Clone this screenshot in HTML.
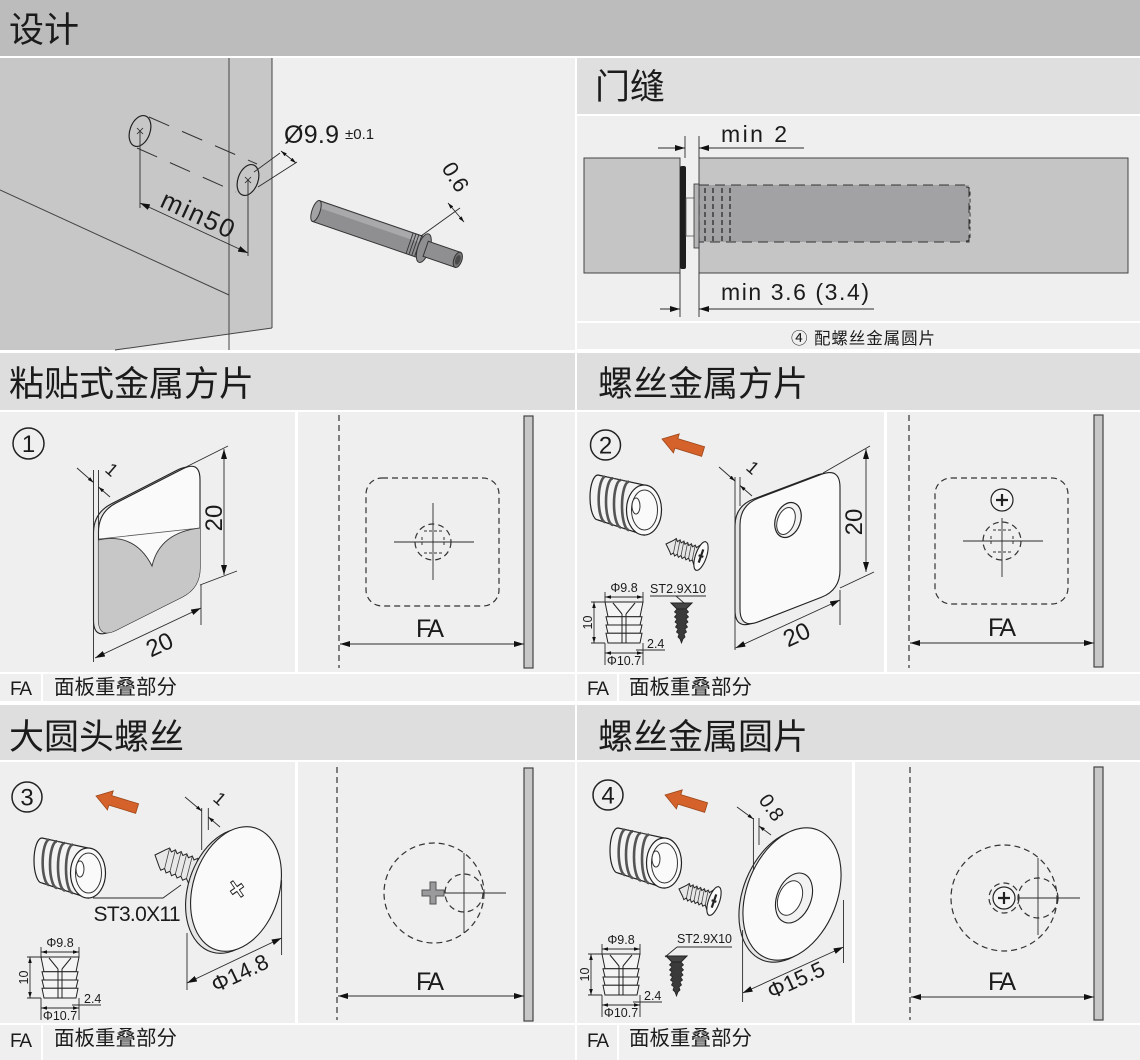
<!DOCTYPE html>
<html><head><meta charset="utf-8"><title>设计</title>
<style>
html,body{margin:0;padding:0;background:#fff;width:1140px;height:1060px;overflow:hidden}
svg{display:block}
text{font-family:"Liberation Sans","Noto Sans CJK SC","WenQuanYi Zen Hei",sans-serif;fill:#1b1b1b}
.d{stroke:#2b2b2b;stroke-width:0.9;fill:none}
.ds{stroke:#333;stroke-width:1.2;fill:none;stroke-dasharray:6 4}
</style></head><body>
<svg width="1140" height="1060" viewBox="0 0 1140 1060" xmlns="http://www.w3.org/2000/svg">
<defs>
<marker id="ar" viewBox="0 0 10 6" refX="10" refY="3" markerWidth="10" markerHeight="6" markerUnits="userSpaceOnUse" orient="auto-start-reverse"><path d="M0,0 L10,3 L0,6 z" fill="#111"/></marker>
<marker id="as" viewBox="0 0 10 6" refX="10" refY="3" markerWidth="6" markerHeight="3.6" markerUnits="userSpaceOnUse" orient="auto-start-reverse"><path d="M0,0 L10,3 L0,6 z" fill="#111"/></marker>
<g id="ins">
<path d="M9,7 L55,17 L55,67 L9,52 A8,22.5 0 0 1 9,7 Z" fill="#f3f3f3" stroke="#222" stroke-width="1.2"/>
<path d="M16,8.5 A7,23 0 0 0 16,54.3 M24,10.3 A7,23.3 0 0 0 24,56.9 M32,12 A7,23.7 0 0 0 32,59.5 M40,13.7 A7,24.2 0 0 0 40,62.1" fill="none" stroke="#555" stroke-width="2.6"/>
<path d="M18,9 L26,10.8 M30,11.6 L38,13.4" stroke="#444" stroke-width="1"/>
<ellipse cx="55" cy="42" rx="17.5" ry="25" fill="#fafafa" stroke="#222" stroke-width="1.2"/>
<ellipse cx="55.5" cy="42" rx="13" ry="20" fill="none" stroke="#333" stroke-width="1"/>
<ellipse cx="47" cy="38" rx="4" ry="8" fill="#fff" stroke="#333" stroke-width="1"/>
</g>
<g id="scr">
<path d="M0,0 L6,-6 L8,-8.5 L10,-6 L12,-8.5 L14,-6 L16,-8.5 L18,-6 L20,-8.5 L22,-6 L24,-8.5 L26,-6 L28,-8.5 L30,-6.5 L36,-14.5 L36,14.5 L30,6.5 L28,8.5 L26,6 L24,8.5 L22,6 L20,8.5 L18,6 L16,8.5 L14,6 L12,8.5 L10,6 L8,8.5 L6,6 Z" fill="#e6e6e6" stroke="#222" stroke-width="1"/>
<path d="M8,-8.5 L10,6 M12,-8.5 L14,6 M16,-8.5 L18,6 M20,-8.5 L22,6 M24,-8.5 L26,6 M28,-8.5 L30,6.5" stroke="#444" stroke-width="0.8"/>
<ellipse cx="37" cy="0" rx="5.5" ry="15" fill="#fafafa" stroke="#222" stroke-width="1.1"/>
<path d="M37,-7 L37,7 M34.5,0 L39.5,0" stroke="#222" stroke-width="2.2"/>
</g>
<g id="fscr">
<path d="M0,0 L21,0 L15,6 L6,6 Z" fill="#444" stroke="#222"/>
<path d="M6,6 L15,6 L17.5,9 L15,11 L17.5,14 L15,16 L17,19 L14.5,21 L16.5,24 L14,26 L15.5,29 L13,31 L14,34 L12,36 L10.5,40 L9,36 L7,34 L8,31 L5.5,29 L7,26 L4.5,24 L6.5,21 L4,19 L6,16 L3.5,14 L6,11 L3.5,9 Z" fill="#3a3a3a" stroke="#222" stroke-width="0.8"/>
</g>
<g id="sins" stroke="#222" stroke-width="1" fill="#f4f4f4">
<path d="M0,0 L38,0 L35,14.7 L3,14.7 Z"/>
<path d="M8,1 L17,12 M30,1 L21,12" fill="none"/>
<path d="M1,14.7 L37,14.7 L35,23 L3,23 Z"/>
<path d="M1,23 L37,23 L35,31.3 L3,31.3 Z"/>
<path d="M1,31.3 L37,31.3 L35,41 L3,41 Z"/>
<path d="M17,12 L17,41 M21,12 L21,41" fill="none"/>
</g>
<g id="oarr"><polygon points="0,0 15,-10 15,-5 43,-5 43,5 15,5 15,10" fill="#d4622a" stroke="#9c4619" stroke-width="0.8"/></g>
<clipPath id="cp1"><path d="M98.5,532 Q98.5,512 116.3,502.9 L182.2,469.1 Q200,460 200,480 L200,568 Q200,588 182.1,597 L116.4,630 Q98.5,639 98.5,619 Z"/></clipPath>
</defs>

<!-- backgrounds -->
<rect x="0" y="0" width="1140" height="56" fill="#bdbcbd"/>
<text x="9" y="42" font-size="35" fill="#111">设计</text>
<rect x="0" y="58" width="575" height="292" fill="#efefef"/>
<rect x="577" y="58" width="563" height="56" fill="#e0dfe0"/>
<text x="595" y="99" font-size="35" fill="#111">门缝</text>
<rect x="577" y="116" width="563" height="205" fill="#efefef"/>
<rect x="577" y="323" width="563" height="26" fill="#efefef"/>
<text x="791" y="344" font-size="16.5" textLength="144">④ 配螺丝金属圆片</text>

<rect x="0" y="353" width="575" height="57" fill="#dfdedf"/>
<text x="9" y="396" font-size="35" fill="#111">粘贴式金属方片</text>
<rect x="577" y="353" width="563" height="57" fill="#dfdedf"/>
<text x="598" y="396" font-size="35" fill="#111">螺丝金属方片</text>
<rect x="0" y="412" width="295" height="260" fill="#efefef"/>
<rect x="298" y="412" width="277" height="260" fill="#efefef"/>
<rect x="577" y="412" width="307" height="260" fill="#efefef"/>
<rect x="887" y="412" width="253" height="260" fill="#efefef"/>
<rect x="0" y="674" width="41" height="27" fill="#efefef"/>
<rect x="43" y="674" width="532" height="27" fill="#f0f0f0"/>
<rect x="577" y="674" width="40" height="27" fill="#efefef"/>
<rect x="619" y="674" width="521" height="27" fill="#f0f0f0"/>
<text x="10" y="695" font-size="19" textLength="22">FA</text>
<text x="54" y="694" font-size="20.5">面板重叠部分</text>
<text x="587" y="695" font-size="19" textLength="22">FA</text>
<text x="629" y="694" font-size="20.5">面板重叠部分</text>

<rect x="0" y="705" width="575" height="55" fill="#dfdedf"/>
<text x="9" y="749" font-size="35" fill="#111">大圆头螺丝</text>
<rect x="577" y="705" width="563" height="55" fill="#dfdedf"/>
<text x="598" y="749" font-size="35" fill="#111">螺丝金属圆片</text>
<rect x="0" y="762" width="295" height="261" fill="#efefef"/>
<rect x="298" y="762" width="277" height="261" fill="#efefef"/>
<rect x="577" y="762" width="275" height="261" fill="#efefef"/>
<rect x="855" y="762" width="285" height="261" fill="#efefef"/>
<rect x="0" y="1025" width="41" height="35" fill="#efefef"/>
<rect x="43" y="1025" width="532" height="35" fill="#f0f0f0"/>
<rect x="577" y="1025" width="40" height="35" fill="#efefef"/>
<rect x="619" y="1025" width="521" height="35" fill="#f0f0f0"/>
<text x="10" y="1047" font-size="19" textLength="22">FA</text>
<text x="54" y="1045" font-size="20.5">面板重叠部分</text>
<text x="587" y="1047" font-size="19" textLength="22">FA</text>
<text x="629" y="1045" font-size="20.5">面板重叠部分</text>

<!-- ===== TOP LEFT: design ===== -->
<polygon points="0,58 272,58 272,328 115,350 0,350" fill="#c8c7c8"/>
<line x1="229" y1="58" x2="229" y2="350" stroke="#444" stroke-width="1"/>
<line x1="272" y1="58" x2="272" y2="328" stroke="#444" stroke-width="1"/>
<line x1="272" y1="328" x2="115" y2="350" stroke="#444" stroke-width="1"/>
<line x1="0" y1="190" x2="229" y2="295" stroke="#444" stroke-width="1"/>
<line x1="149" y1="117" x2="257" y2="164" stroke="#333" stroke-width="1" stroke-dasharray="22 14"/>
<line x1="137" y1="148" x2="236" y2="192" stroke="#333" stroke-width="1" stroke-dasharray="22 14"/>
<ellipse cx="140" cy="131" rx="10" ry="16" transform="rotate(20 140 131)" fill="none" stroke="#222" stroke-width="1.2"/>
<ellipse cx="248" cy="180" rx="10" ry="16" transform="rotate(20 248 180)" fill="#c8c7c8" stroke="#222" stroke-width="1.2"/>
<path d="M137,128 l6,6 M143,128 l-6,6 M245,177 l6,6 M251,177 l-6,6" stroke="#222" stroke-width="0.8"/>
<line x1="140" y1="131" x2="140" y2="208" class="d"/>
<line x1="248" y1="180" x2="248" y2="256" class="d"/>
<line x1="140" y1="203" x2="248" y2="253" class="d" marker-start="url(#ar)" marker-end="url(#ar)"/>
<text transform="translate(192,227) rotate(24.8)" x="0" y="-5" font-size="26" text-anchor="middle" textLength="78">min50</text>
<line x1="254" y1="172" x2="280" y2="153" class="d"/>
<line x1="258" y1="187" x2="297" y2="162" class="d"/>
<line x1="281" y1="151" x2="296" y2="163" class="d" marker-start="url(#as)" marker-end="url(#as)"/>
<text x="284" y="143" font-size="25" textLength="55">Ø9.9</text>
<text x="345" y="139" font-size="15">±0.1</text>
<!-- damper -->
<g transform="translate(316,211) rotate(19)">
<rect x="0" y="-11" width="112" height="22" fill="#8f8e91" stroke="#333" stroke-width="1"/>
<rect x="1" y="-10" width="110" height="6" fill="#a9a8ab"/>
<ellipse cx="0" cy="0" rx="4" ry="11" fill="#a3a2a5" stroke="#333"/>
<path d="M99,-11 v22 M102,-11 v22 M105,-11 v22 M108,-11 v22" stroke="#333" stroke-width="0.9"/>
<ellipse cx="114" cy="0" rx="6" ry="15" fill="#8f8e91" stroke="#333"/>
<rect x="116" y="-8" width="34" height="16" fill="#8f8e91" stroke="#333"/>
<ellipse cx="150" cy="0" rx="4" ry="8" fill="#777" stroke="#333"/>
<ellipse cx="150" cy="0" rx="2.5" ry="5" fill="#4a4a4a"/>
</g>
<line x1="421" y1="236" x2="460" y2="208" class="d"/>
<line x1="448" y1="203" x2="464" y2="222" class="d" marker-start="url(#as)" marker-end="url(#as)"/>
<text transform="translate(441,168) rotate(58)" font-size="22">0.6</text>

<!-- ===== TOP RIGHT: door gap ===== -->
<rect x="584" y="158" width="96" height="115" fill="#c6c5c6" stroke="#444" stroke-width="1"/>
<rect x="699" y="158" width="429" height="115" fill="#c6c5c6" stroke="#444" stroke-width="1"/>
<rect x="680" y="166" width="6" height="103" rx="2" fill="#1e1e1e"/>
<rect x="686" y="198" width="9" height="38" fill="#efefef" stroke="#555" stroke-width="0.8"/>
<rect x="699" y="185" width="270" height="57" fill="#a2a1a3" stroke="#333" stroke-width="1" stroke-dasharray="10 6"/>
<rect x="694" y="184" width="5" height="64" fill="#b5b4b6" stroke="#333" stroke-width="0.8"/>
<path d="M705,188 V243 M713,188 V243 M722,188 V243 M730,188 V243" stroke="#222" stroke-width="1.2" stroke-dasharray="5 3"/>
<path d="M966,187 q4,0 4,4 v46 q0,4 -4,4" fill="none" stroke="#333" stroke-width="1" stroke-dasharray="4 3"/>
<line x1="685" y1="136" x2="685" y2="158" class="d"/>
<line x1="699" y1="136" x2="699" y2="158" class="d"/>
<line x1="658" y1="148" x2="685" y2="148" class="d" marker-end="url(#ar)"/>
<line x1="804" y1="148" x2="699" y2="148" class="d" marker-end="url(#ar)"/>
<text x="721" y="142" font-size="23" textLength="66">min 2</text>
<line x1="680" y1="273" x2="680" y2="317" class="d"/>
<line x1="699" y1="273" x2="699" y2="317" class="d"/>
<line x1="660" y1="309" x2="680" y2="309" class="d" marker-end="url(#ar)"/>
<line x1="874" y1="309" x2="699" y2="309" class="d" marker-end="url(#ar)"/>
<text x="721" y="300" font-size="23" textLength="148">min 3.6 (3.4)</text>

<!-- ===== ROW 1 LEFT: adhesive plate ===== -->
<circle cx="28.5" cy="443.5" r="15.5" fill="none" stroke="#222" stroke-width="1.5"/>
<text x="28.5" y="452" font-size="24" text-anchor="middle">1</text>
<path transform="translate(-5,1)" d="M98.5,532 Q98.5,512 116.3,502.9 L182.2,469.1 Q200,460 200,480 L200,568 Q200,588 182.1,597 L116.4,630 Q98.5,639 98.5,619 Z" fill="#e4e4e4" stroke="#222" stroke-width="1.1"/>
<path d="M98.5,532 Q98.5,512 116.3,502.9 L182.2,469.1 Q200,460 200,480 L200,568 Q200,588 182.1,597 L116.4,630 Q98.5,639 98.5,619 Z" fill="#fafafa" stroke="#222" stroke-width="1.1"/>
<path clip-path="url(#cp1)" d="M98,540 Q135,532 152,566 Q160,532 201,528 L201,645 L98,645 Z" fill="#c8c7c8" stroke="#333" stroke-width="0.9"/>
<line x1="99" y1="539" x2="200" y2="528" stroke="#555" stroke-width="0.8"/>
<line x1="93.5" y1="470" x2="93.5" y2="662" class="d"/>
<line x1="98.5" y1="470" x2="98.5" y2="535" class="d"/>
<line x1="77" y1="468" x2="93.5" y2="482.5" class="d" marker-end="url(#as)"/>
<line x1="110" y1="497" x2="98.5" y2="487" class="d" marker-end="url(#as)"/>
<text transform="translate(104,471) rotate(41)" font-size="18">1</text>
<line x1="182" y1="469" x2="228" y2="446" class="d"/>
<line x1="200" y1="585" x2="237" y2="571" class="d"/>
<line x1="224" y1="449" x2="224" y2="575" class="d" marker-start="url(#ar)" marker-end="url(#ar)"/>
<text transform="translate(222,518) rotate(-90)" font-size="24" text-anchor="middle">20</text>
<line x1="201" y1="585" x2="201" y2="625" class="d"/>
<line x1="95" y1="658" x2="201" y2="608" class="d" marker-start="url(#ar)" marker-end="url(#ar)"/>
<text transform="translate(163,652) rotate(-25.2)" font-size="24" text-anchor="middle">20</text>

<!-- row1 right: FA -->
<line x1="339" y1="415" x2="339" y2="668" class="ds"/>
<rect x="524" y="416" width="9" height="252" fill="#c8c7c8" stroke="#444" stroke-width="1.2"/>
<rect x="366" y="478" width="133" height="128" rx="16" class="ds"/>
<line x1="394" y1="542" x2="474" y2="542" class="d"/>
<line x1="433" y1="503" x2="433" y2="580" class="d"/>
<circle cx="433" cy="542" r="18" class="ds" stroke-dasharray="4 3"/>
<path d="M424,531 h18 M424,553 h18 M422,537 v10 M444,537 v10" stroke="#333" stroke-width="1" stroke-dasharray="3 2"/>
<line x1="340" y1="644" x2="524" y2="644" class="d" stroke-width="1.1" marker-start="url(#ar)" marker-end="url(#ar)"/>
<text x="416" y="637" font-size="25" textLength="28">FA</text>

<!-- ===== ROW 1 RIGHT: screw square plate ===== -->
<circle cx="605.5" cy="445" r="15" fill="none" stroke="#222" stroke-width="1.5"/>
<text x="605.5" y="453.5" font-size="24" text-anchor="middle">2</text>
<use href="#oarr" transform="translate(662,439) rotate(17)"/>
<use href="#ins" transform="translate(589,468)"/>
<use href="#scr" transform="translate(666,544) rotate(19)"/>
<use href="#sins" transform="translate(605,602)"/>
<path d="M605,592 V602 M643,592 V602 M591,602 H605 M591,643 H605 M605,643 V665 M643,643 V665 M636,650 H665" class="d" stroke-width="0.8"/>
<line x1="605" y1="597" x2="643" y2="597" class="d" stroke-width="0.8" marker-start="url(#as)" marker-end="url(#as)"/>
<line x1="594" y1="602" x2="594" y2="643" class="d" stroke-width="0.8" marker-start="url(#as)" marker-end="url(#as)"/>
<line x1="605" y1="653" x2="643" y2="653" class="d" stroke-width="0.8" marker-start="url(#as)" marker-end="url(#as)"/>
<text x="624" y="592" font-size="12.5" text-anchor="middle">Φ9.8</text>
<text transform="translate(592,622.5) rotate(-90)" font-size="12.5" text-anchor="middle">10</text>
<text x="624" y="665" font-size="12.5" text-anchor="middle">Φ10.7</text>
<text x="647" y="648" font-size="12.5">2.4</text>
<text x="650" y="593" font-size="12.5" textLength="56">ST2.9X10</text>
<path d="M650,596 H706 M676,596 L684,603" class="d" stroke-width="0.8"/>
<use href="#fscr" transform="translate(671,603)"/>
<path transform="translate(-5,1)" d="M740,525 Q740,505 758.7,498 L821.3,474.4 Q840,467.4 840,487.4 L840,570 Q840,590 821.4,597.3 L758.6,621.7 Q740,629 740,609 Z" fill="#e4e4e4" stroke="#222" stroke-width="1.1"/>
<path d="M740,525 Q740,505 758.7,498 L821.3,474.4 Q840,467.4 840,487.4 L840,570 Q840,590 821.4,597.3 L758.6,621.7 Q740,629 740,609 Z" fill="#fafafa" stroke="#222" stroke-width="1.1"/>
<ellipse cx="788" cy="520" rx="12.5" ry="18" transform="rotate(20 788 520)" fill="#f2f2f2" stroke="#222" stroke-width="1.2"/>
<ellipse cx="786" cy="521" rx="8.5" ry="14" transform="rotate(20 786 521)" fill="#fff" stroke="#333" stroke-width="1"/>
<line x1="735" y1="477" x2="735" y2="650" class="d"/>
<line x1="740" y1="477" x2="740" y2="506" class="d"/>
<line x1="719" y1="467" x2="735" y2="481" class="d" marker-end="url(#as)"/>
<line x1="752" y1="496" x2="740" y2="485.5" class="d" marker-end="url(#as)"/>
<text transform="translate(745,469) rotate(41)" font-size="18">1</text>
<line x1="823" y1="473" x2="870" y2="446" class="d"/>
<line x1="840" y1="588" x2="874" y2="572" class="d"/>
<line x1="866" y1="449" x2="866" y2="572" class="d" marker-start="url(#ar)" marker-end="url(#ar)"/>
<text transform="translate(862,522) rotate(-90)" font-size="24" text-anchor="middle">20</text>
<line x1="840" y1="590" x2="840" y2="625" class="d"/>
<line x1="735.5" y1="648" x2="840" y2="600" class="d" marker-start="url(#ar)" marker-end="url(#ar)"/>
<text transform="translate(800,642) rotate(-24.7)" font-size="24" text-anchor="middle">20</text>

<!-- row1 right-right: FA -->
<line x1="909" y1="415" x2="909" y2="668" class="ds"/>
<rect x="1094" y="415" width="9" height="252" fill="#c8c7c8" stroke="#444" stroke-width="1.2"/>
<rect x="935" y="478" width="133" height="126" rx="16" class="ds"/>
<circle cx="1002" cy="500" r="11" fill="#f4f4f4" stroke="#222" stroke-width="1.2"/>
<path d="M1002,494 v12 M996,500 h12" stroke="#222" stroke-width="2.2"/>
<line x1="963" y1="541" x2="1043" y2="541" class="d"/>
<line x1="1002" y1="518" x2="1002" y2="577" class="d"/>
<circle cx="1002" cy="541" r="19" class="ds" stroke-dasharray="4 3"/>
<path d="M993,530 h18 M993,552 h18 M991,536 v10 M1013,536 v10" stroke="#333" stroke-width="1" stroke-dasharray="3 2"/>
<line x1="910" y1="643" x2="1094" y2="643" class="d" stroke-width="1.1" marker-start="url(#ar)" marker-end="url(#ar)"/>
<text x="988" y="636" font-size="25" textLength="28">FA</text>

<!-- ===== ROW 2 LEFT: big round head screw ===== -->
<circle cx="27" cy="797" r="15" fill="none" stroke="#222" stroke-width="1.5"/>
<text x="27" y="805.5" font-size="24" text-anchor="middle">3</text>
<use href="#oarr" transform="translate(96,796) rotate(17)"/>
<use href="#ins" transform="translate(33,831)"/>
<g transform="translate(155,855) rotate(22)">
<path d="M0,0 L8,-9 L11,-12 L14,-9 L17,-12.5 L20,-9.5 L23,-13 L26,-10 L29,-13 L32,-10 L35,-13 L38,-10 L41,-13 L44,-10 L52,-10 L52,10 L44,10 L41,13 L38,10 L35,13 L32,10 L29,13 L26,10 L23,13 L20,9.5 L17,12.5 L14,9 L11,12 L8,9 Z" fill="#e8e8e8" stroke="#222" stroke-width="1"/>
<path d="M11,-12 L14,9 M17,-12.5 L20,9.5 M23,-13 L26,10 M29,-13 L32,10 M35,-13 L38,10 M41,-13 L44,10" stroke="#444" stroke-width="0.8"/>
</g>
<ellipse cx="231" cy="891" rx="43" ry="64" transform="rotate(18 231 891)" fill="#e6e6e6" stroke="#222" stroke-width="1.1"/>
<ellipse cx="236" cy="889" rx="43" ry="64" transform="rotate(18 236 889)" fill="#fafafa" stroke="#222" stroke-width="1.1"/>
<path transform="translate(237,889) rotate(-35) scale(0.75,1)" d="M-2,-9 L2,-9 L2,-2 L9,-2 L9,2 L2,2 L2,9 L-2,9 L-2,2 L-9,2 L-9,-2 L-2,-2 Z" fill="#fff" stroke="#222" stroke-width="1.1"/>
<path d="M93,898 H163 L181,885" class="d"/>
<text x="93.5" y="921" font-size="21" textLength="87">ST3.0X11</text>
<line x1="201.7" y1="808" x2="201.7" y2="850" class="d"/>
<line x1="208.3" y1="808" x2="208.3" y2="830" class="d"/>
<line x1="185" y1="797" x2="201.7" y2="811" class="d" marker-end="url(#as)"/>
<line x1="220" y1="827" x2="208.3" y2="817" class="d" marker-end="url(#as)"/>
<text transform="translate(212,800) rotate(41)" font-size="18">1</text>
<line x1="187" y1="933" x2="187" y2="990" class="d"/>
<line x1="281.6" y1="880" x2="281.6" y2="955" class="d"/>
<line x1="187" y1="983" x2="281.6" y2="938" class="d" marker-start="url(#ar)" marker-end="url(#ar)"/>
<text transform="translate(243,980) rotate(-25.4)" font-size="22" text-anchor="middle">Φ14.8</text>
<use href="#sins" transform="translate(41,957)"/>
<path d="M41,947 V957 M79,947 V957 M27,957 H41 M27,998 H41 M41,998 V1020 M79,998 V1020 M72,1005 H101" class="d" stroke-width="0.8"/>
<line x1="41" y1="952" x2="79" y2="952" class="d" stroke-width="0.8" marker-start="url(#as)" marker-end="url(#as)"/>
<line x1="30" y1="957" x2="30" y2="998" class="d" stroke-width="0.8" marker-start="url(#as)" marker-end="url(#as)"/>
<line x1="41" y1="1008" x2="79" y2="1008" class="d" stroke-width="0.8" marker-start="url(#as)" marker-end="url(#as)"/>
<text x="60" y="947" font-size="12.5" text-anchor="middle">Φ9.8</text>
<text transform="translate(28,977.5) rotate(-90)" font-size="12.5" text-anchor="middle">10</text>
<text x="60" y="1020" font-size="12.5" text-anchor="middle">Φ10.7</text>
<text x="84" y="1003" font-size="12.5">2.4</text>

<!-- row2 left-right: FA -->
<line x1="337" y1="767" x2="337" y2="1020" class="ds"/>
<rect x="524" y="768" width="9" height="253" fill="#c8c7c8" stroke="#444" stroke-width="1.2"/>
<circle cx="434" cy="893" r="50" class="ds"/>
<circle cx="464" cy="893" r="19" class="ds" stroke-dasharray="4 3"/>
<line x1="444" y1="893" x2="506" y2="893" class="d"/>
<line x1="464" y1="853" x2="464" y2="933" class="d"/>
<path d="M430,882 h6 v8 h8 v6 h-8 v8 h-6 v-8 h-8 v-6 h8 z" fill="#9a999b" stroke="#555" stroke-width="1"/>
<line x1="338" y1="996" x2="524" y2="996" class="d" stroke-width="1.1" marker-start="url(#ar)" marker-end="url(#ar)"/>
<text x="416" y="990" font-size="25" textLength="28">FA</text>

<!-- ===== ROW 2 RIGHT: screw round plate ===== -->
<circle cx="608" cy="795" r="15" fill="none" stroke="#222" stroke-width="1.5"/>
<text x="608" y="803.5" font-size="24" text-anchor="middle">4</text>
<use href="#oarr" transform="translate(665,795) rotate(17)"/>
<use href="#ins" transform="translate(609,821)"/>
<use href="#scr" transform="translate(679,889) rotate(19)"/>
<ellipse cx="788" cy="896" rx="45" ry="69" transform="rotate(22 788 896)" fill="#e6e6e6" stroke="#222" stroke-width="1.1"/>
<ellipse cx="792" cy="894" rx="45" ry="69" transform="rotate(22 792 894)" fill="#fafafa" stroke="#222" stroke-width="1.1"/>
<ellipse cx="794" cy="898" rx="17" ry="26" transform="rotate(22 794 898)" fill="#f2f2f2" stroke="#222" stroke-width="1.1"/>
<ellipse cx="790" cy="898" rx="11.5" ry="18" transform="rotate(22 790 898)" fill="#fff" stroke="#333" stroke-width="1"/>
<line x1="753.4" y1="818" x2="753.4" y2="870" class="d"/>
<line x1="759" y1="818" x2="759" y2="845" class="d"/>
<line x1="737" y1="807" x2="753.4" y2="819" class="d" marker-end="url(#as)"/>
<line x1="771" y1="835" x2="759" y2="826" class="d" marker-end="url(#as)"/>
<text transform="translate(758,800) rotate(55)" font-size="20">0.8</text>
<line x1="742.6" y1="930" x2="742.6" y2="1002" class="d"/>
<line x1="843.5" y1="900" x2="843.5" y2="963" class="d"/>
<line x1="742.6" y1="993" x2="843.5" y2="947" class="d" marker-start="url(#ar)" marker-end="url(#ar)"/>
<text transform="translate(799,987) rotate(-24.5)" font-size="22" text-anchor="middle">Φ15.5</text>
<use href="#sins" transform="translate(602,954)"/>
<path d="M602,944 V954 M640,944 V954 M588,954 H602 M588,995 H602 M602,995 V1017 M640,995 V1017 M633,1002 H662" class="d" stroke-width="0.8"/>
<line x1="602" y1="949" x2="640" y2="949" class="d" stroke-width="0.8" marker-start="url(#as)" marker-end="url(#as)"/>
<line x1="591" y1="954" x2="591" y2="995" class="d" stroke-width="0.8" marker-start="url(#as)" marker-end="url(#as)"/>
<line x1="602" y1="1005" x2="640" y2="1005" class="d" stroke-width="0.8" marker-start="url(#as)" marker-end="url(#as)"/>
<text x="621" y="944" font-size="12.5" text-anchor="middle">Φ9.8</text>
<text transform="translate(589,974.5) rotate(-90)" font-size="12.5" text-anchor="middle">10</text>
<text x="621" y="1017" font-size="12.5" text-anchor="middle">Φ10.7</text>
<text x="644" y="1000" font-size="12.5">2.4</text>
<text x="677" y="943" font-size="12.5" textLength="55">ST2.9X10</text>
<path d="M677,947 H732 M677,947 L665,957" class="d" stroke-width="0.8"/>
<use href="#fscr" transform="translate(666,956)"/>

<!-- row2 right-right: FA -->
<line x1="910" y1="767" x2="910" y2="1020" class="ds"/>
<rect x="1094" y="767" width="9" height="253" fill="#c8c7c8" stroke="#444" stroke-width="1.2"/>
<circle cx="1004" cy="898" r="53" class="ds"/>
<circle cx="1038" cy="898" r="20" class="ds" stroke-dasharray="4 3"/>
<line x1="1018" y1="898" x2="1080" y2="898" class="d"/>
<line x1="1038" y1="858" x2="1038" y2="935" class="d"/>
<circle cx="1004" cy="898" r="15" class="ds" stroke-dasharray="3 2"/>
<circle cx="1004" cy="898" r="11" fill="#f4f4f4" stroke="#222" stroke-width="1.2"/>
<path d="M1004,892 v12 M998,898 h12" stroke="#222" stroke-width="2.2"/>
<line x1="911" y1="997" x2="1094" y2="997" class="d" stroke-width="1.1" marker-start="url(#ar)" marker-end="url(#ar)"/>
<text x="988" y="990" font-size="25" textLength="28">FA</text>
</svg>
</body></html>
